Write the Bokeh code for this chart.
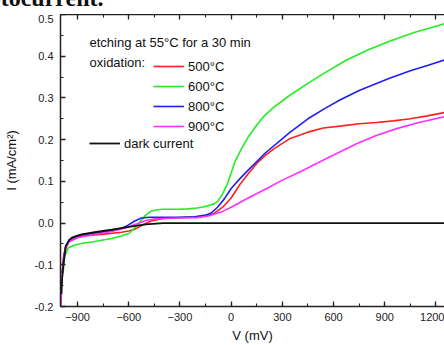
from bokeh.plotting import figure
from bokeh.models import (Range1d, LinearAxis, SingleIntervalTicker, NumeralTickFormatter,
                          CustomJSTickFormatter, Legend, LegendItem, Label, Div)
from bokeh.layouts import column
from bokeh.embed import file_html
from bokeh.resources import INLINE

# ---- data ----
dark_x = [-995, -990, -982, -969, -950, -934, -900, -876, -800, -700, -600, -500, -400, -300, 0, 600, 1300]
dark_y = [-0.17, -0.13, -0.096, -0.055, -0.042, -0.035, -0.030, -0.027, -0.022, -0.016, -0.009, -0.003, 0.0, 0.0, 0.0, 0.0, 0.0]

t500_x = [-990, -982, -969, -950, -900, -876, -759, -643, -600, -565, -526, -468, -400, -300, -200, -150, -100,
          -50, 0, 50, 100, 150, 200, 250, 346, 450, 540, 650, 750, 851, 950, 1050, 1150, 1250]
t500_y = [-0.12, -0.08, -0.055, -0.043, -0.034, -0.031, -0.027, -0.022, -0.019, -0.015, -0.006, 0.005, 0.011,
          0.013, 0.015, 0.017, 0.023, 0.038, 0.06, 0.092, 0.118, 0.143, 0.162, 0.178, 0.203, 0.218, 0.228,
          0.233, 0.238, 0.241, 0.245, 0.25, 0.257, 0.265]

t600_x = [-985, -976, -953, -920, -876, -800, -759, -700, -643, -600, -584, -545, -506, -468, -430, -400, -300,
          -254, -200, -157, -100, -79, -50, -21, 0, 23, 60, 101, 150, 190, 250, 346, 450, 548, 676, 800, 928,
          1072, 1200, 1250]
t600_y = [-0.12, -0.08, -0.059, -0.053, -0.049, -0.044, -0.041, -0.037, -0.031, -0.025, -0.019, -0.003, 0.017,
          0.029, 0.032, 0.033, 0.033, 0.034, 0.036, 0.039, 0.046, 0.052, 0.07, 0.095, 0.12, 0.148, 0.178, 0.207,
          0.235, 0.255, 0.278, 0.307, 0.335, 0.36, 0.391, 0.415, 0.436, 0.457, 0.472, 0.478]

t800_x = [-990, -980, -969, -950, -900, -876, -759, -643, -604, -565, -526, -480, -410, -300, -215, -150, -118,
          -80, -40, 0, 50, 100, 200, 346, 450, 550, 637, 750, 928, 1050, 1150, 1250]
t800_y = [-0.12, -0.08, -0.055, -0.04, -0.031, -0.028, -0.023, -0.013, -0.005, 0.005, 0.012, 0.014, 0.014,
          0.014, 0.015, 0.019, 0.024, 0.038, 0.058, 0.083, 0.106, 0.127, 0.168, 0.218, 0.25, 0.275, 0.295,
          0.318, 0.347, 0.365, 0.378, 0.391]

t900_x = [-997, -993, -985, -970, -950, -900, -800, -700, -620, -560, -500, -450, -400, -300, -200, -132, -50,
          0, 100, 200, 300, 414, 500, 600, 735, 850, 975, 1100, 1250]
t900_y = [-0.2, -0.15, -0.1, -0.062, -0.045, -0.035, -0.027, -0.02, -0.012, -0.003, 0.006, 0.01, 0.011, 0.012,
          0.013, 0.017, 0.028, 0.038, 0.06, 0.081, 0.103, 0.125, 0.143, 0.163, 0.19, 0.21, 0.227, 0.241, 0.255]

series_labels = ["500\u00b0C", "600\u00b0C", "800\u00b0C", "900\u00b0C"]
series_colors = ["#ff2020", "#22ee22", "#2020ee", "#ff30ff"]

FONT = "Liberation Sans"

# fragment of the surrounding page text, cut by the top edge
head = Div(text=('<div style="position:relative;width:444px;height:14px;overflow:hidden;">'
                 '<span style="position:absolute;left:-38px;top:-14px;white-space:nowrap;'
                 'font-family:\'Liberation Serif\';font-weight:bold;font-size:24px;line-height:24px;'
                 'color:#111;">photocurrent.</span></div>'),
           width=444, height=14, margin=0, styles={"overflow": "hidden"})

p = figure(width=444, height=331, output_backend="svg", toolbar_location=None,
           x_range=Range1d(-1000, 1250), y_range=Range1d(-0.2, 0.5),
           x_axis_type=None, y_axis_type=None, margin=0,
           min_border_left=59, min_border_right=0, min_border_top=0, min_border_bottom=39)
p.outline_line_color = None
p.grid.visible = False
p.background_fill_color = "white"
p.border_fill_color = "white"

xt = SingleIntervalTicker(interval=300, num_minor_ticks=2)
yt = SingleIntervalTicker(interval=0.1, num_minor_ticks=2)

def style(ax):
    ax.axis_line_width = 1.5
    ax.axis_line_color = "#222222"
    ax.major_tick_line_color = "#222222"
    ax.minor_tick_line_color = "#222222"
    ax.major_tick_line_width = 1.3
    ax.minor_tick_line_width = 1.1
    ax.major_tick_in = 5
    ax.major_tick_out = 0
    ax.minor_tick_in = 3
    ax.minor_tick_out = 0
    ax.major_label_text_font = FONT
    ax.major_label_text_font_size = "11px"
    ax.major_label_text_color = "#222222"
    ax.axis_label_text_font = FONT
    ax.axis_label_text_font_size = "13px"
    ax.axis_label_text_font_style = "normal"
    ax.axis_label_text_color = "#111111"

xb = LinearAxis(ticker=xt, axis_label="V (mV)")
style(xb)
xb.major_label_standoff = 6
xb.axis_label_standoff = 4
p.add_layout(xb, "below")

xa = LinearAxis(ticker=xt, formatter=CustomJSTickFormatter(code="return ''"))
style(xa)
xa.major_label_standoff = 0
p.add_layout(xa, "above")

yl = LinearAxis(ticker=yt, axis_label="I (mA/cm\u00b2)", formatter=NumeralTickFormatter(format="0.0"))
style(yl)
yl.major_label_standoff = 7
yl.axis_label_standoff = 13
p.add_layout(yl, "left")

rd = p.line(dark_x, dark_y, line_color="#111111", line_width=1.8)
r500 = p.line(t500_x, t500_y, line_color=series_colors[0], line_width=1.6)
r600 = p.line(t600_x, t600_y, line_color=series_colors[1], line_width=1.6)
r800 = p.line(t800_x, t800_y, line_color=series_colors[2], line_width=1.6)
r900 = p.line(t900_x, t900_y, line_color=series_colors[3], line_width=1.6)
p.renderers.remove(rd)
p.renderers.append(rd)

def mk_legend(items, loc):
    return Legend(items=items, location=loc, orientation="vertical",
                  border_line_color=None, background_fill_alpha=0,
                  label_text_font=FONT, label_text_font_size="13px", label_text_color="#111111",
                  glyph_width=31, glyph_height=16, label_height=16, label_standoff=4,
                  spacing=4, padding=0, margin=0)

lg1 = mk_legend([LegendItem(label=series_labels[i], renderers=[r])
                 for i, r in enumerate([r500, r600, r800, r900])], (93, 172))
lg2 = mk_legend([LegendItem(label="dark current", renderers=[rd])], (29, 155))
p.add_layout(lg1, "center")
p.add_layout(lg2, "center")

p.add_layout(Label(x=-830, y=0.432, text="etching at 55\u00b0C for a 30 min", text_font=FONT,
                   text_font_size="13px", text_baseline="middle", text_color="#111111"))
p.add_layout(Label(x=-830, y=0.384, text="oxidation:", text_font=FONT,
                   text_font_size="13px", text_baseline="middle", text_color="#111111"))

layout = column(head, p, spacing=0, margin=0)
open("out.html", "w").write(file_html(layout, INLINE))
